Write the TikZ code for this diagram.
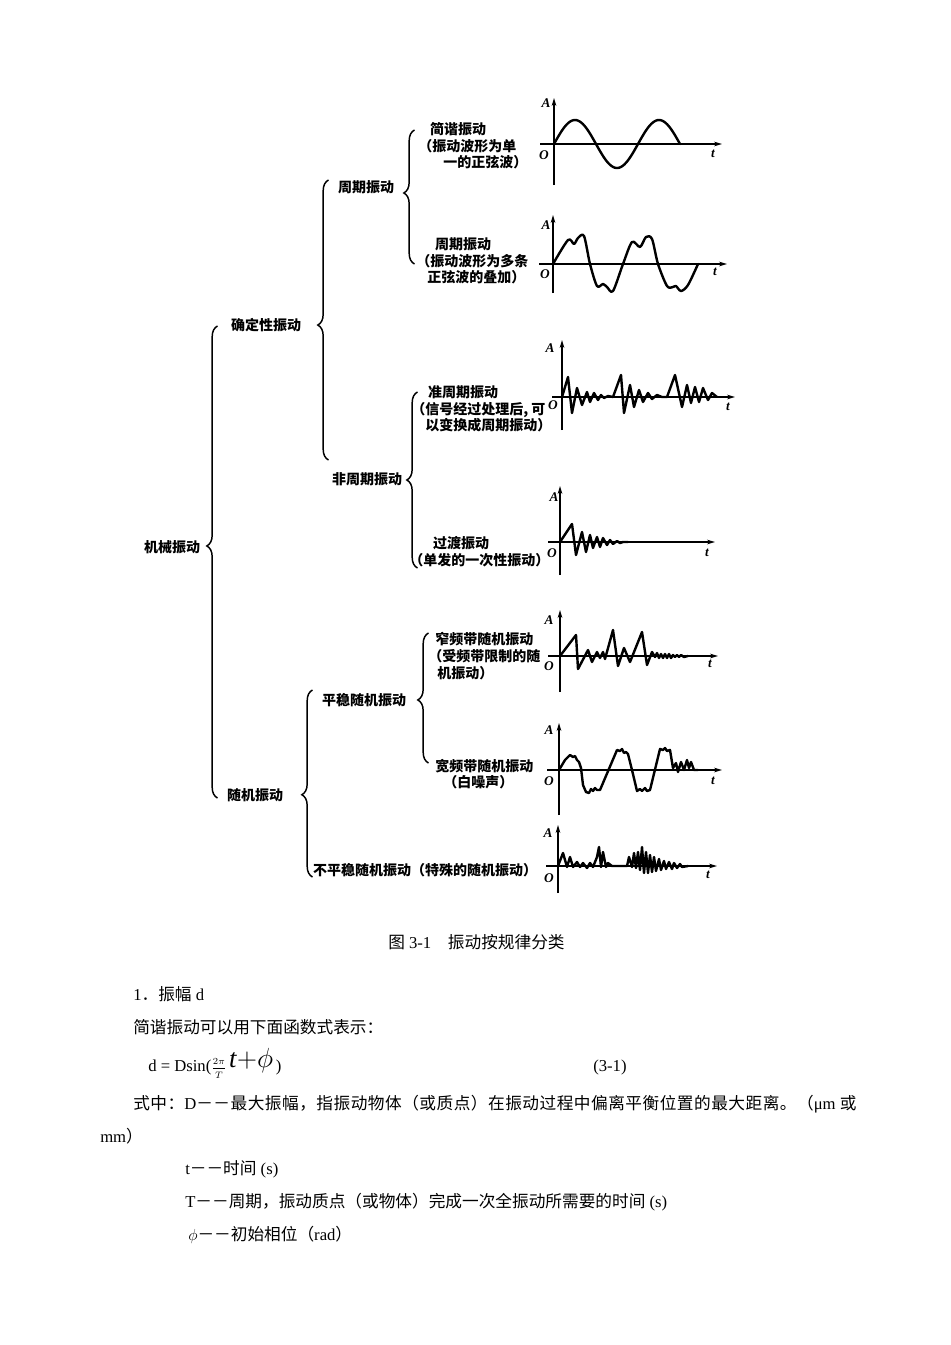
\documentclass[tikz,border=0pt]{standalone}
\usepackage{fontspec}
\setmainfont{Liberation Serif}
\newfontfamily\cjk{Noto Sans CJK SC}
\newfontfamily\cjkwide{Noto Sans CJK SC}[LetterSpace=3]
\usetikzlibrary{arrows.meta,decorations.pathreplacing}

\begin{document}
\begin{tikzpicture}[x=0.75pt,y=-0.75pt,
  class node/.style={font=\cjk\bfseries\fontsize{10.5}{12.5}\selectfont,inner sep=0pt},
  note node/.style={class node,align=left,anchor=west},
  body text/.style={font=\fontsize{12.5}{15}\selectfont,inner sep=0pt,anchor=base west},
  axis label/.style={font=\bfseries\itshape\fontsize{10}{10}\selectfont,inner sep=0pt},
  axis line/.style={line width=1.1pt,-{Stealth[length=6pt,width=3.5pt]}},
  wave/.style={line width=1.8pt,line join=round,line cap=round},
  brace line/.style={line width=1.1pt,decorate,decoration={brace,amplitude=8pt,aspect=#1}}]
  \useasboundingbox[fill=white] (0,0) rectangle (950,1345);
  % NODES
  \node[class node] (jixie) at (172,547) {机械振动};
  \node[class node] (queding) at (266,325) {确定性振动};
  \node[class node] (suiji) at (255,795) {随机振动};
  \node[class node] (zhouqi) at (366,187) {周期振动};
  \node[class node] (feizhouqi) at (367,479) {非周期振动};
  \node[class node] (pingwen) at (364,700) {平稳随机振动};
  \node[class node] (bupingwen) at (425,870) {不平稳随机振动（特殊的随机振动）};
  \node[note node] (jianxie) at (418,146)
    {\hspace*{0.85em}简谐振动\\（振动波形为单\\\hspace*{1.8em}一的正弦波）};
  \node[note node] (zhouqi note) at (416,261)
    {\hspace*{1.35em}周期振动\\（振动波形为多条\\\hspace*{0.8em}正弦波的叠加）};
  \node[note node] (zhunzhouqi) at (411,409)
    {\hspace*{1.2em}准周期振动\\（信号经过处理后, 可\\\hspace*{1em}以变换成周期振动）};
  \node[note node] (guodu) at (409,551.5)
    {\hspace*{1.7em}过渡振动\\（单发的一次性振动）};
  \node[note node] (zhaipin) at (428,656)
    {\hspace*{0.5em}窄频带随机振动\\（受频带限制的随\\\hspace*{0.65em}机振动）};
  \node[note node] (kuanpin) at (435,774)
    {宽频带随机振动\\\hspace*{0.57em}（白噪声）};
  % BRACES
  \coordinate (jixie top) at (217.5,326);
  \coordinate (jixie bot) at (217.5,798);
  \coordinate (queding top) at (328.5,180);
  \coordinate (queding bot) at (328.5,460);
  \coordinate (zhouqi top) at (414.5,130);
  \coordinate (zhouqi bot) at (414.5,264);
  \coordinate (feizhouqi top) at (417.5,392);
  \coordinate (feizhouqi bot) at (417.5,568);
  \coordinate (suiji top) at (312.5,690);
  \coordinate (suiji bot) at (312.5,877);
  \coordinate (pingwen top) at (428.5,633);
  \coordinate (pingwen bot) at (428.5,763);
  \draw[brace line=.534] (jixie bot) -- (jixie top);
  \draw[brace line=.482] (queding bot) -- (queding top);
  \draw[brace line=.53] (zhouqi bot) -- (zhouqi top);
  \draw[brace line=.5] (feizhouqi bot) -- (feizhouqi top);
  \draw[brace line=.44] (suiji bot) -- (suiji top);
  \draw[brace line=.485] (pingwen bot) -- (pingwen top);
  % AXES
  \draw[axis line] (554,185) -- (554,98);
  \draw[axis line] (540,144) -- (722,144);
  \draw[axis line] (553,293) -- (553,215);
  \draw[axis line] (539,264) -- (727,264);
  \draw[axis line] (562,430) -- (562,340);
  \draw[axis line] (552,397) -- (735,397);
  \draw[axis line] (560,575) -- (560,486);
  \draw[axis line] (548,542) -- (715,542);
  \draw[axis line] (560,692) -- (560,610);
  \draw[axis line] (548,656) -- (718,656);
  \draw[axis line] (559,815) -- (559,723);
  \draw[axis line] (547,770) -- (722,770);
  \draw[axis line] (558,893) -- (558,825);
  \draw[axis line] (546,866) -- (717,866);
  \node[axis label] (a1) at (546,103) {A};
  \node[axis label] (o1) at (544,155) {O};
  \node[axis label] (t1) at (713,154) {t};
  \node[axis label] (a2) at (546,225) {A};
  \node[axis label] (o2) at (545,274) {O};
  \node[axis label] (t2) at (715,272) {t};
  \node[axis label] (a3) at (550,348) {A};
  \node[axis label] (o3) at (553,405) {O};
  \node[axis label] (t3) at (728,407) {t};
  \node[axis label] (a4) at (554,497) {A};
  \node[axis label] (o4) at (552,553) {O};
  \node[axis label] (t4) at (707,553) {t};
  \node[axis label] (a5) at (549,620) {A};
  \node[axis label] (o5) at (549,666) {O};
  \node[axis label] (t5) at (710,664) {t};
  \node[axis label] (a6) at (549,730) {A};
  \node[axis label] (o6) at (549,781) {O};
  \node[axis label] (t6) at (713,781) {t};
  \node[axis label] (a7) at (548,833) {A};
  \node[axis label] (o7) at (549,878) {O};
  \node[axis label] (t7) at (708,875) {t};
  % WAVES
  \draw[wave] plot[domain=0:126,samples=80] ({554+\x},{144-24*sin(\x*4.2857)});
  \draw[wave] plot[smooth,tension=0.5] coordinates {(553,264) (568,240) (574,244)
    (578,238) (584,236) (590,264) (597,286) (603,284) (607,287) (613,291) (623,264)
    (632,242) (640,247) (646,237) (652,239) (658,264) (667,286) (673,287) (676,286)
    (681,291) (688,285) (698,264)};
  \draw[wave] plot coordinates {(562,397) (568,377) (572,413) (577,388) (582,405)
    (587,392) (590,402) (594,393) (598,400) (601,395) (604,398) (608,396) (613,397)
    (621,375) (624,413) (630,385) (634,407) (639,390) (643,402) (648,393) (652,399)
    (657,395) (662,397) (667,397) (675,375) (682,407) (687,385) (691,403) (695,387)
    (699,402) (703,388) (708,400) (712,393) (717,397)};
  \draw[wave] plot coordinates {(560,542) (572,524) (576,555) (582,532) (586,552)
    (590,535) (593,548) (597,537) (600,547) (603,538) (607,545) (610,540) (613,544)
    (617,541) (620,543) (623,542) (628,542)};
  \draw[wave] plot coordinates {(560,656) (576,635) (578,669) (588,650) (592,662)
    (597,652) (600,658) (603,652) (605,659) (613,630) (618,666) (624,648) (630,662)
    (642,632) (647,665) (652,652) (655,657) (657,653) (659,658) (661,654) (663,658)
    (665,654) (667,658) (669,654) (671,658) (673,655) (675,657) (677,655) (679,657)
    (681,655) (684,657) (688,656)};
  \draw[wave] plot coordinates {(559,770) (565,760) (570,755) (573,757) (575,756)
    (577,760) (579,762) (581,768) (583,785) (586,792) (589,793) (591,789) (593,791)
    (595,788) (597,790) (600,790) (617,750) (620,751) (622,749) (624,753) (626,752)
    (628,754) (632,770) (637,791) (640,789) (642,791) (645,788) (647,791) (650,790)
    (660,749) (663,750) (665,748) (667,751) (670,750) (673,768) (676,763) (678,772)
    (681,762) (684,770) (687,760) (689,768) (691,762) (694,770) (698,770)};
  \draw[wave] plot coordinates {(558,866) (563,853) (567,867) (570,857) (573,867)
    (577,862) (580,867) (583,863) (587,868) (590,863) (593,867) (597,857) (599,847)
    (601,867) (603,852) (606,867) (608,863) (612,866) (627,866) (629,857) (632,867)
    (634,853) (636,868) (638,852) (640,870) (642,847) (644,873) (646,852) (648,873)
    (650,855) (652,872) (654,857) (656,871) (659,859) (661,870) (664,861) (666,869)
    (669,862) (672,869) (674,863) (677,868) (680,864) (682,867) (688,866)};
  % TEXT
  \node[body text] (caption) at (388,948) {{\cjk 图} 3-1{\cjk 　振动按规律分类}};
  \node[body text] (item1) at (133,1000) {1{\cjk ．振幅} d};
  \node[body text] (intro) at (133,1033) {{\cjk 简谐振动可以用下面函数式表示：}};
  \node[body text] (eq) at (148,1071)
    {d = Dsin({\fontsize{7}{7}\selectfont$\displaystyle\frac{2\pi}{T}$}\,\raisebox{3pt}{\fontsize{20}{20}\selectfont\textit{t}$+\phi$}\,)};
  \node[body text] (eqno) at (593,1071) {(3-1)};
  \node[body text] (where) at (133,1109)
    {{\cjkwide 式中：}D{\cjkwide －－最大振幅，指振动物体（或质点）在振动过程中偏离平衡位置的最大距离。（}μm\ {\cjkwide 或}};
  \node[body text] (mm) at (100,1142) {mm{\cjk ）}};
  \node[body text] (tline) at (185,1174) {t{\cjk －－时间} (s)};
  \node[body text] (Tline) at (185,1207) {T{\cjk －－周期，振动质点（或物体）完成一次全振动所需要的时间} (s)};
  \node[body text] (philine) at (188,1240) {$\phi${\cjk －－初始相位（}rad{\cjk ）}};
\end{tikzpicture}
\end{document}
